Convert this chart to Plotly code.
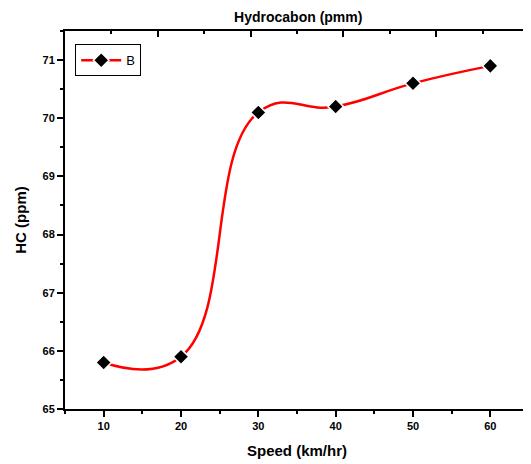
import plotly.graph_objects as go

speed = [10, 20, 30, 40, 50, 60]
hc = [65.8, 65.9, 70.1, 70.2, 70.6, 70.9]
series_name = "B"
title_text = "Hydrocabon (pmm)"
x_title = "Speed (km/hr)"
y_title = "HC (ppm)"
x_ticks = [10, 20, 30, 40, 50, 60]
y_ticks = [65, 66, 67, 68, 69, 70, 71]

FONT = "Liberation Sans, Arial, sans-serif"

fig = go.Figure()
fig.add_trace(go.Scatter(
    x=speed, y=hc, name=series_name, mode="lines+markers",
    line=dict(color="#ff0000", width=2.5, shape="spline", smoothing=1.3),
    marker=dict(symbol="diamond", size=12, color="black",
                line=dict(color="white", width=1.5)),
))
# empty trace to create the secondary (top/right) frame axes
fig.add_trace(go.Scatter(x=[], y=[], xaxis="x2", yaxis="y2", showlegend=False,
                         hoverinfo="skip"))

fig.update_layout(
    width=523, height=456,
    paper_bgcolor="white", plot_bgcolor="white",
    margin=dict(l=57, r=2, t=23, b=55, autoexpand=False),
    font=dict(family=FONT, color="black"),
    title=dict(text=title_text, x=0.555, xanchor="center", y=0.981, yanchor="middle",
               font=dict(size=14, weight="bold", family=FONT)),
    showlegend=True,
    legend=dict(x=0.022, y=0.965, xanchor="left", yanchor="top",
                bordercolor="black", borderwidth=1, bgcolor="white",
                font=dict(size=13, family=FONT), itemwidth=40,
                tracegroupgap=0),
    xaxis=dict(
        range=[5, 65], tickvals=x_ticks, ticks="outside", ticklen=6, tickwidth=2,
        tickcolor="black", showline=True, linewidth=2, linecolor="black",
        showgrid=False, zeroline=False, mirror=False, automargin=False,
        minor=dict(dtick=5, tick0=5, ticks="outside", ticklen=3, tickwidth=2,
                   tickcolor="black"),
        tickfont=dict(size=11, weight="bold", family=FONT),
        title=dict(text=x_title, standoff=14, font=dict(size=15, weight="bold", family=FONT)),
    ),
    yaxis=dict(
        range=[65, 71.5], tickvals=y_ticks, ticks="outside", ticklen=6, tickwidth=2,
        tickcolor="black", showline=True, linewidth=2, linecolor="black",
        showgrid=False, zeroline=False, mirror=False, automargin=False,
        minor=dict(dtick=0.5, tick0=65, ticks="outside", ticklen=3, tickwidth=2,
                   tickcolor="black"),
        tickfont=dict(size=11, weight="bold", family=FONT),
        title=dict(text=y_title, standoff=12, font=dict(size=15, weight="bold", family=FONT)),
    ),
    xaxis2=dict(
        overlaying="x", anchor="y", side="top", range=[0, 10], dtick=2,
        ticks="inside", ticklen=6, tickwidth=2, tickcolor="black",
        showticklabels=False, showline=True, linewidth=2, linecolor="black",
        showgrid=False, zeroline=False, automargin=False,
        minor=dict(dtick=1, ticks="inside", ticklen=3, tickwidth=2, tickcolor="black"),
    ),
    yaxis2=dict(
        overlaying="y", anchor="x", side="right", range=[0, 10], dtick=2,
        ticks="inside", ticklen=6, tickwidth=2, tickcolor="black",
        showticklabels=False, showline=True, linewidth=2, linecolor="black",
        showgrid=False, zeroline=False, automargin=False,
        minor=dict(dtick=1, ticks="inside", ticklen=3, tickwidth=2, tickcolor="black"),
    ),
)

fig.write_html("out.html")
